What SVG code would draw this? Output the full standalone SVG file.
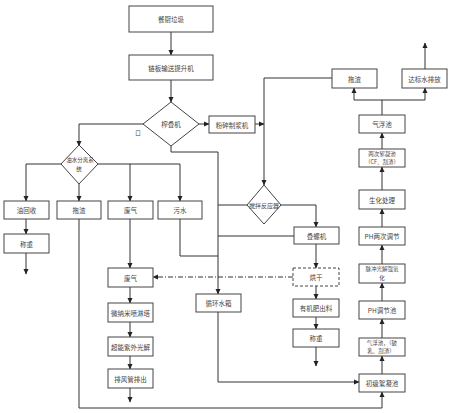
<svg xmlns="http://www.w3.org/2000/svg" width="450" height="413" viewBox="0 0 450 413">
<defs>
<marker id="ah" markerWidth="6" markerHeight="6" refX="5" refY="3" orient="auto" markerUnits="userSpaceOnUse">
<path d="M0,0.5 L5.5,3 L0,5.5 Z" fill="#222"/>
</marker>
<style>
.b{fill:#fff;stroke:#444;stroke-width:1}
.d{fill:#fff;stroke:#444;stroke-width:1;stroke-dasharray:3,2}
.t{font-family:"Noto Sans CJK SC","Liberation Sans",sans-serif;font-size:6.5px;fill:#444;text-anchor:middle;dominant-baseline:central}
.s{font-size:5.5px}
.c{fill:none;stroke:#333;stroke-width:1}
.a{fill:none;stroke:#333;stroke-width:1;marker-end:url(#ah)}
.dd{fill:none;stroke:#333;stroke-width:1;stroke-dasharray:5,2,1,2;marker-end:url(#ah)}
</style>
</defs>
<rect width="450" height="413" fill="#fff"/>
<g id="connectors">
<path class="a" d="M171,32V55"/>
<path class="a" d="M171,80V102"/>
<path class="a" d="M144,124H79V146"/>
<path class="a" d="M199,124H209"/>
<path class="a" d="M255,124H264"/>
<path class="a" d="M332,78H264V185"/>
<path class="a" d="M171,146V152H218V294"/>
<path class="c" d="M26,164H61M98,164H180"/>
<path class="a" d="M26,164V201"/>
<path class="a" d="M79,184V201"/>
<path class="a" d="M130,164V201"/>
<path class="a" d="M180,164V201"/>
<path class="a" d="M26,219V234"/>
<path class="a" d="M26,253V274"/>
<path class="a" d="M79,219V408H382V392"/>
<path class="a" d="M130,219V268"/>
<path class="a" d="M130,287V303"/>
<path class="a" d="M130,322V337"/>
<path class="a" d="M130,356V369"/>
<path class="a" d="M130,388V402"/>
<path class="c" d="M180,219V256H218"/>
<path class="c" d="M247,205H218"/>
<path class="c" d="M294,236H218"/>
<path class="a" d="M281,205H316V227"/>
<path class="a" d="M316,244V268"/>
<path class="a" d="M316,286V299"/>
<path class="a" d="M316,317V329"/>
<path class="a" d="M316,347V366"/>
<path class="dd" d="M293,277H153"/>
<path class="a" d="M218,312V382H359"/>
<path class="a" d="M382,374V356"/>
<path class="a" d="M382,338V319"/>
<path class="a" d="M382,301V283"/>
<path class="a" d="M382,264V245"/>
<path class="a" d="M382,227V209"/>
<path class="a" d="M382,190V167"/>
<path class="a" d="M382,149V133"/>
<path class="c" d="M382,115V100M354,100H425"/>
<path class="a" d="M354,100V88"/>
<path class="a" d="M425,100V88"/>
<path class="a" d="M425,69V43"/>
</g>
<g id="n1"><rect class="b" x="129" y="6" width="84" height="26"/><text class="t" x="171" y="19">餐厨垃圾</text></g>
<g id="n2"><rect class="b" x="129" y="55" width="84" height="25"/><text class="t" x="171" y="67.5">链板输送提升机</text></g>
<g id="n3"><path class="b" d="M171,102L199,124L171,146L143,124Z"/><text class="t" x="171" y="124">榨叠机</text></g>
<text class="t s" x="138" y="133">口</text>
<g id="n4"><rect class="b" x="209" y="116" width="46" height="17"/><text class="t" x="232" y="124.5">粉碎制浆机</text></g>
<g id="n5"><rect class="b" x="332" y="69" width="45" height="19"/><text class="t" x="354.5" y="78.5">拖渣</text></g>
<g id="n6"><rect class="b" x="402" y="69" width="45" height="19"/><text class="t" x="424.5" y="78.5">达标水排放</text></g>
<g id="n7"><path class="b" d="M79,145L98,164L79,184L61,164Z"/><text class="t s" x="80" y="160">油水分离系</text><text class="t s" x="79" y="168.5">统</text></g>
<g id="n8"><rect class="b" x="4" y="201" width="45" height="18"/><text class="t" x="26.5" y="210">油回收</text></g>
<g id="n9"><rect class="b" x="57" y="201" width="44" height="18"/><text class="t" x="79" y="210">拖渣</text></g>
<g id="n10"><rect class="b" x="108" y="201" width="45" height="18"/><text class="t" x="130.5" y="210">废气</text></g>
<g id="n11"><rect class="b" x="158" y="201" width="44" height="18"/><text class="t" x="180" y="210">污水</text></g>
<g id="n12"><rect class="b" x="4" y="234" width="45" height="19"/><text class="t" x="26.5" y="243.5">称重</text></g>
<g id="n13"><rect class="b" x="108" y="268" width="45" height="19"/><text class="t" x="130.5" y="277.5">废气</text></g>
<g id="n14"><rect class="b" x="108" y="303" width="45" height="19"/><text class="t" x="130.5" y="312.5">微纳米喷淋塔</text></g>
<g id="n15"><rect class="b" x="108" y="337" width="45" height="19"/><text class="t" x="130.5" y="346.5">超能紫外光解</text></g>
<g id="n16"><rect class="b" x="108" y="369" width="45" height="19"/><text class="t" x="130.5" y="378.5">排风管排出</text></g>
<g id="n17"><path class="b" d="M264,185L281,205L264,224L247,205Z"/><text class="t" x="264" y="205" style="font-size:6px">搅拌反应器</text></g>
<g id="n18"><rect class="b" x="294" y="227" width="45" height="17"/><text class="t" x="316.5" y="235.5">叠螺机</text></g>
<g id="n19"><rect class="d" x="293" y="268" width="46" height="18"/><text class="t" x="316" y="277">烘干</text></g>
<g id="n20"><rect class="b" x="293" y="299" width="46" height="18"/><text class="t" x="316" y="308">有机肥出料</text></g>
<g id="n21"><rect class="b" x="293" y="329" width="46" height="18"/><text class="t" x="316" y="338">称重</text></g>
<g id="n22"><rect class="b" x="196" y="294" width="45" height="18"/><text class="t" x="218.5" y="303">循环水箱</text></g>
<g id="n23"><rect class="b" x="359" y="115" width="46" height="18"/><text class="t" x="382" y="124">气浮池</text></g>
<g id="n24"><rect class="b" x="359" y="149" width="46" height="18"/><text class="t s" x="382" y="153.5">两次絮凝池</text><text class="t s" x="382" y="162.2">（CF、刮渣）</text></g>
<g id="n25"><rect class="b" x="359" y="190" width="46" height="19"/><text class="t" x="382" y="199.5">生化处理</text></g>
<g id="n26"><rect class="b" x="359" y="227" width="46" height="18"/><text class="t" x="382" y="236">PH两次调节</text></g>
<g id="n27"><rect class="b" x="359" y="264" width="46" height="19"/><text class="t s" x="382" y="268.8">脉冲光解强氧</text><text class="t s" x="382" y="277.6">化</text></g>
<g id="n28"><rect class="b" x="359" y="301" width="46" height="18"/><text class="t" x="382" y="310">PH调节池</text></g>
<g id="n29"><rect class="b" x="359" y="338" width="46" height="18"/><text class="t s" x="382" y="342.5">气浮池，（破</text><text class="t s" x="381" y="351.2">乳、刮渣）</text></g>
<g id="n30"><rect class="b" x="359" y="374" width="46" height="18"/><text class="t" x="382" y="383">初级絮凝池</text></g>
</svg>
